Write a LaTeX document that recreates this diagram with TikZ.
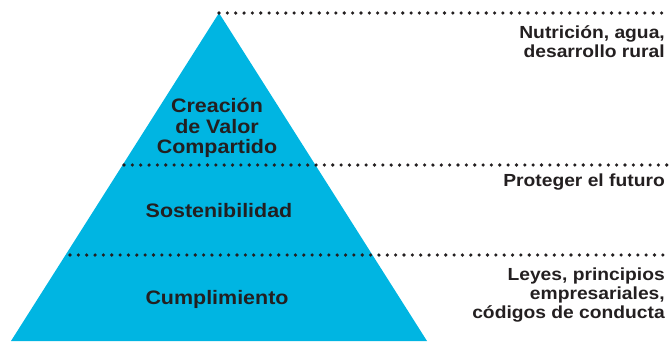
\documentclass[tikz,border=0pt]{standalone}
\usepackage{fontspec}
\setmainfont{Liberation Sans}[FakeStretch=1.1]
\definecolor{pyrcyan}{HTML}{00B5E2}
\definecolor{txtdark}{HTML}{231F20}
\begin{document}
\begin{tikzpicture}[x=1pt,y=-1pt,
  dotline/.style={line width=3.6pt, line cap=round, dash pattern=on 0pt off 8.35pt, txtdark},
  centertext/.style={font=\bfseries\fontsize{19.5}{20.8}\selectfont, text=txtdark, align=center, inner sep=0pt},
  sidetext/.style={font=\bfseries\fontsize{17.5}{18.8}\selectfont, text=txtdark, align=right, inner sep=0pt, anchor=east}]
\useasboundingbox (0,0) rectangle (669,341);
\coordinate (apex) at (219,13);
\coordinate (bl) at (11,341);
\coordinate (br) at (427,341);
\fill[pyrcyan] (apex) -- (br) -- (bl) -- cycle;
\coordinate (d1s) at (219,13);  \coordinate (d1e) at (668,13);
\coordinate (d2s) at (124,165); \coordinate (d2e) at (668,165);
\coordinate (d3s) at (70,255);  \coordinate (d3e) at (668,255);
\draw[dotline] (d1s) -- (d1e);
\draw[dotline] (d2s) -- (d2e);
\draw[dotline] (d3s) -- (d3e);
\node[centertext] (cvc) at (217,128) {Creación\\de Valor\\Compartido};
\node[centertext] (sos) at (219,211) {Sostenibilidad};
\node[centertext] (cum) at (217,299) {Cumplimiento};
\node[sidetext] (nut) at (665,42) {Nutrición, agua,\\desarrollo rural};
\node[sidetext] (pro) at (665,182) {Proteger el futuro};
\node[sidetext] (ley) at (665,295) {Leyes, principios\\empresariales,\\códigos de conducta};
\end{tikzpicture}
\end{document}
